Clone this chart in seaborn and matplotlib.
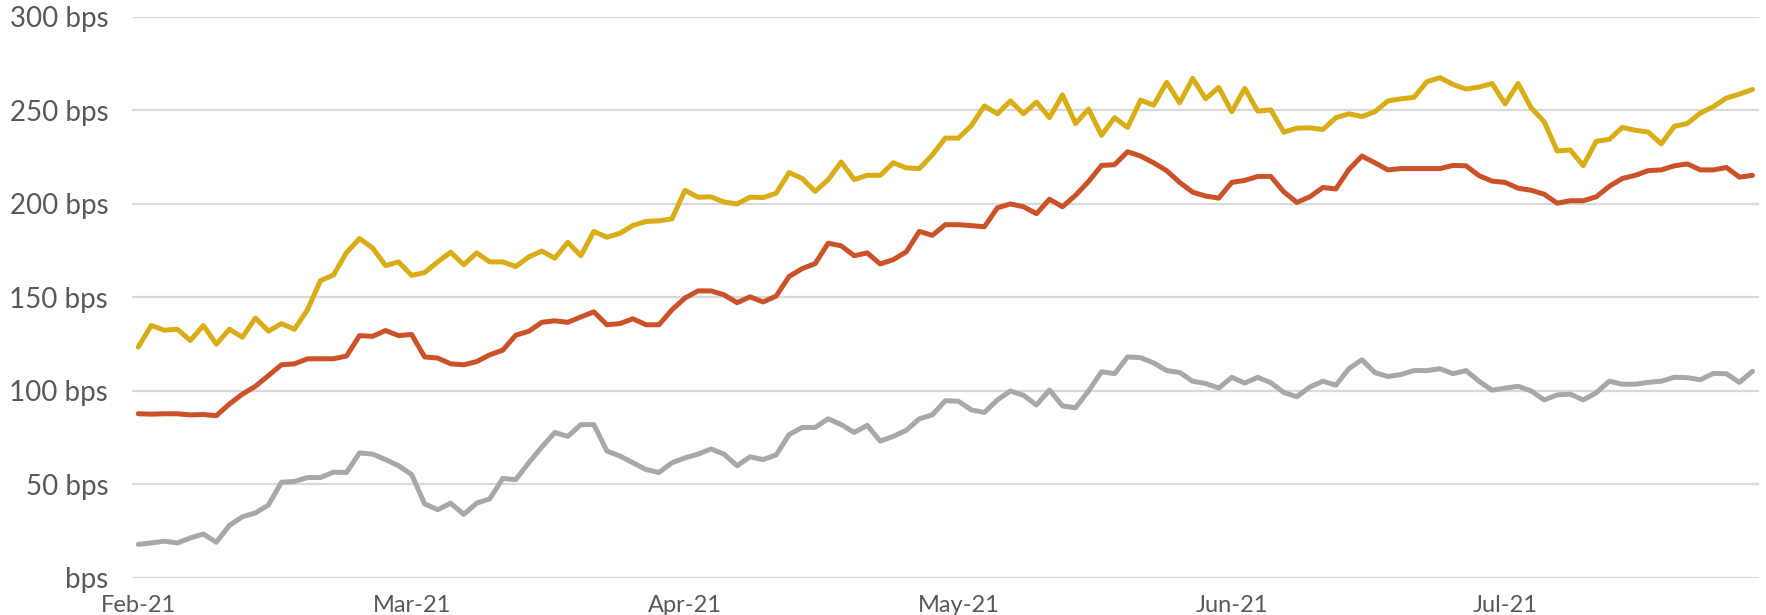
import numpy as np
import pandas as pd
import matplotlib
matplotlib.use("Agg")
import matplotlib.pyplot as plt
import seaborn as sns

# spread values (bps), one point per trading day, Feb-21 .. Jul-21
gold = [123.5, 135, 132.5, 133, 127, 135, 125, 133, 128.7, 139, 132, 136, 133, 143.4, 159, 162,
        174, 181.5, 176.5, 167, 169, 161.8, 163.3, 169, 174.2, 167.5, 173.8, 169, 169, 166.5, 171.7,
        174.8, 171, 179.5, 172.3, 185.3, 182.2, 184.3, 188.5, 190.6, 191, 192, 207.3, 203.6, 203.8,
        201, 200, 203.6, 203.4, 205.7, 216.8, 213.6, 206.7, 213, 222.4, 213, 215.3, 215.3, 222,
        219.3, 218.9, 226.2, 235.2, 235.2, 241.9, 252.4, 248.2, 255.1, 248.2, 254.5, 246.1, 258.3,
        243, 250.7, 236.7, 246.1, 240.9, 255.5, 252.8, 265, 254.1, 267.1, 256.2, 262.3, 249.3,
        261.8, 249.6, 250.3, 238.4, 240.5, 240.7, 239.8, 246.1, 248.2, 246.7, 249.3, 255.1, 256.2,
        257, 265.4, 267.5, 263.9, 261.4, 262.5, 264.4, 253.5, 264.4, 251.4, 244, 228.3, 228.9,
        220.5, 233.5, 234.5, 240.9, 239.4, 238.4, 232.1, 241.5, 243, 248.6, 252, 256.6, 258.7, 261.2]

red = [87.8, 87.6, 87.8, 87.8, 87.2, 87.4, 86.8, 93, 98.3, 102.5, 108.2, 114, 114.5, 117.2, 117.2,
       117.2, 118.7, 129.6, 129.2, 132.3, 129.6, 130.2, 118.2, 117.6, 114.5, 114, 115.7, 119.3,
       121.8, 129.8, 131.9, 136.7, 137.5, 136.7, 139.6, 142.3, 135.4, 136, 138.6, 135.4, 135.4,
       143.4, 149.7, 153.5, 153.5, 151.4, 147.2, 150.3, 147.6, 150.7, 161.2, 165.4, 168.1, 179,
       177.6, 172.3, 173.8, 167.9, 170.2, 174.4, 185.3, 183.2, 188.9, 188.9, 188.4, 187.8, 197.9,
       200, 198.5, 194.8, 202.5, 198.5, 204.6, 212, 220.6, 221, 227.9, 225.6, 222, 217.8, 211.5,
       206.3, 204.2, 203.1, 211.5, 212.6, 214.7, 214.7, 206.5, 200.8, 203.8, 208.8, 208, 218.4,
       225.6, 222, 218.2, 218.9, 218.9, 218.9, 218.9, 220.6, 220.4, 215.1, 212.2, 211.5, 208.4,
       207.3, 205.2, 200.4, 201.7, 201.7, 203.8, 209.4, 213.6, 215.3, 217.8, 218.2, 220.4, 221.4,
       218.2, 218.2, 219.5, 214.3, 215.3]

grey = [18, 18.7, 19.7, 18.7, 21.4, 23.5, 19.1, 28.1, 32.7, 34.8, 39, 51.2, 51.6, 53.7, 53.7,
        56.6, 56.4, 66.9, 66.2, 63.3, 60, 55.3, 39.6, 36.5, 40, 34, 40, 42.3, 53.2, 52.6, 61.6, 70,
        77.8, 75.7, 82, 82, 67.9, 65.2, 61.6, 58, 56.4, 61.6, 64.2, 66.2, 69, 66.2, 60, 64.8, 63.3,
        65.8, 76.7, 80.5, 80.5, 85.1, 82, 77.8, 81.6, 73.2, 75.7, 79, 85.1, 87.2, 94.8, 94.5, 89.9,
        88.5, 95.2, 100, 97.7, 92.5, 100.5, 92, 91, 100, 110.3, 109.2, 118.2, 117.8, 115, 110.9,
        109.9, 105.2, 104, 101.5, 107.3, 104.2, 107.3, 104.4, 99.2, 96.9, 102.1, 105.2, 103.1,
        111.9, 116.7, 109.8, 107.7, 108.8, 110.9, 110.9, 111.9, 109.2, 110.9, 105.2, 100.4, 101.5,
        102.5, 100, 95.2, 97.9, 98.3, 95.2, 99, 105.2, 103.6, 103.6, 104.6, 105.2, 107.3, 107.1,
        106, 109.4, 109.2, 104.6, 110.5]

month_labels = ["Feb-21", "Mar-21", "Apr-21", "May-21", "Jun-21", "Jul-21"]
label_every = 21

series = {"gold": gold, "red": red, "grey": grey}
colors = {"gold": "#D9AD15", "red": "#CB5128", "grey": "#A8A8A8"}

df = pd.concat(
    [pd.DataFrame({"t": np.arange(len(v)), "bps": v, "series": k}) for k, v in series.items()],
    ignore_index=True,
)

sns.set_theme(style="white")
plt.rcParams["font.family"] = ["Lato", "DejaVu Sans"]

fig = plt.figure(figsize=(17.66, 6.15), dpi=100)
ax = fig.add_axes([0.0746, 0.0602, 0.9214, 0.9123])

sns.lineplot(data=df, x="t", y="bps", hue="series", palette=colors,
             linewidth=3.6, legend=False, ax=ax)

ax.set_ylim(0, 300)
ax.set_xlim(-0.5, len(gold) - 0.5)
yt = np.arange(0, 301, 50)
ax.set_yticks(yt)
ax.set_yticklabels(["bps"] + [f"{v} bps" for v in yt[1:]])
ax.set_xticks(np.arange(len(month_labels)) * label_every)
ax.set_xticklabels(month_labels)
ax.grid(axis="y", color="#D9D9D9", linewidth=1.6)
ax.set_axisbelow(True)
for s in ax.spines.values():
    s.set_visible(False)
ax.tick_params(axis="y", labelsize=20, colors="#595959", length=0, pad=17)
ax.tick_params(axis="x", labelsize=17, colors="#595959", length=0, pad=12)
ax.set_xlabel("")
ax.set_ylabel("")

fig.savefig("out.png", dpi=100)
